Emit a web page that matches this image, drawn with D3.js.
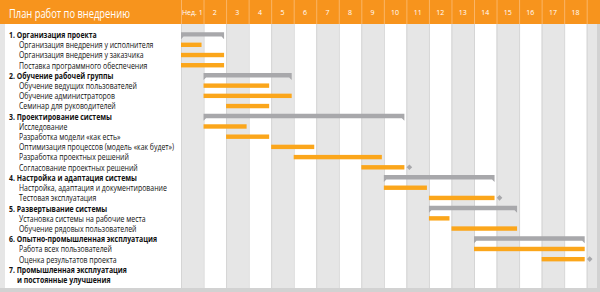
<!DOCTYPE html>
<html lang="ru">
<head>
<meta charset="UTF-8">
<script src="https://cdn.jsdelivr.net/npm/d3@7"></script>
<style>
  body { margin: 0; }
  svg { display: block; font-family: "Open Sans", sans-serif; }
  .lbl { font-size: 8.6px; fill: #111; }
  .lbl.group { font-weight: bold; }
  .wk { font-size: 7px; fill: #fff; }
</style>
</head>
<body>
<svg id="chart" width="600" height="292"></svg>
<script>
const title = "План работ по внедрению";
const weeks = ["Нед. 1", "2", "3", "4", "5", "6", "7", "8", "9", "10", "11", "12", "13", "14", "15", "16", "17", "18"];

const labels = [
  "1. Организация проекта",
  "Организация внедрения у исполнителя",
  "Организация внедрения у заказчика",
  "Поставка программного обеспечения",
  "2. Обучение рабочей группы",
  "Обучение ведущих пользователей",
  "Обучение администраторов",
  "Семинар для руководителей",
  "3. Проектирование системы",
  "Исследование",
  "Разработка модели «как есть»",
  "Оптимизация процессов (модель «как будет»)",
  "Разработка проектных решений",
  "Согласование проектных решений",
  "4. Настройка и адаптация системы",
  "Настройка, адаптация и документирование",
  "Тестовая эксплуатация",
  "5. Развертывание системы",
  "Установка системы на рабочие места",
  "Обучение рядовых пользователей",
  "6. Опытно-промышленная эксплуатация",
  "Работа всех пользователей",
  "Оценка результатов проекта",
  "7. Промышленная эксплуатация",
  "и постоянные улучшения"
];
// g = group (summary), t = task, c = continuation of previous group label
const kinds = ["g","t","t","t","g","t","t","t","g","t","t","t","t","t","g","t","t","g","t","t","g","t","t","g","c"];
// start / end in weeks (0 = beginning of week 1)
const starts = [0,0,0,0, 1,1,1,2, 1,1,2,4,5,8, 9,9,11, 11,11,12, 13,13,16, null,null];
const ends   = [2,1,2,2, 5,4,5,4, 10,3,4,6,9,10, 14,11,14, 15,12,15, 18,18,18, null,null];
const milestones = [13, 16, 22];

const W = 600, H = 292;
const svg = d3.select("#chart");

const x = d3.scaleLinear().domain([0, 18]).range([181, 586.7]);
const y = d3.scaleLinear().domain([0, labels.length - 1]).range([35, 280]);
const colW = x(1) - x(0);

// background
svg.append("rect").attr("width", W).attr("height", H).attr("fill", "#e6e6e6");

// week columns
svg.append("g").selectAll("rect").data(d3.range(19)).join("rect")
  .attr("x", d => x(d)).attr("y", 24)
  .attr("width", colW).attr("height", 264)
  .attr("fill", d => d % 2 === 1 && d < 18 ? "#ffffff" : "#e6e6e6");
svg.append("g").selectAll("line").data(d3.range(19)).join("line")
  .attr("x1", d => x(d) + 0.5).attr("x2", d => x(d) + 0.5)
  .attr("y1", 24).attr("y2", 288)
  .attr("stroke", "#d5d5d5").attr("stroke-width", 1);

// right edge and bottom strip
svg.append("rect").attr("x", 597).attr("y", 24).attr("width", 3).attr("height", H - 24).attr("fill", "#d2d2d2");
svg.append("rect").attr("x", 0).attr("y", 288).attr("width", W).attr("height", 4).attr("fill", "#d2d2d2");

// label panel
svg.append("rect").attr("x", 5).attr("y", 24).attr("width", 176).attr("height", 264).attr("fill", "#ffffff");

// header
svg.append("rect").attr("width", W).attr("height", 24).attr("fill", "#f7941d");
svg.append("g").selectAll("line").data(d3.range(20)).join("line")
  .attr("x1", d => x(d) + 0.5).attr("x2", d => x(d) + 0.5)
  .attr("y1", 0).attr("y2", 24)
  .attr("stroke", "#fab566").attr("stroke-width", 1);

// title, squeezed a little to mimic the narrow original face
const tg = svg.append("g");
const tt = tg.append("text").attr("x", 0).attr("y", 0)
  .attr("fill", "#fff").style("font-size", "13px").text(title);
const tf = 121 / tt.node().getComputedTextLength();
tg.attr("transform", `translate(9,18) scale(${tf},1)`);

svg.append("g").selectAll("text").data(weeks).join("text")
  .attr("class", "wk")
  .attr("x", (d, i) => x(i) + colW / 2).attr("y", 15)
  .attr("text-anchor", "middle").text(d => d);

// labels
const lg = svg.append("g");
const lt = lg.selectAll("text").data(labels).join("text")
  .attr("class", (d, i) => kinds[i] === "t" ? "lbl" : "lbl group")
  .attr("y", (d, i) => y(i) + 3)
  .text(d => d);
const lf = 155 / lt.nodes()[11].getComputedTextLength();
lt.attr("x", (d, i) => (kinds[i] === "t" ? 19 : (kinds[i] === "c" ? 17 : 9)) / lf);
lg.attr("transform", `scale(${lf},1)`);

// bars
const rows = d3.range(labels.length).filter(i => starts[i] !== null);
const taskRows = rows.filter(i => kinds[i] === "t");
const groupRows = rows.filter(i => kinds[i] === "g");

svg.append("g").selectAll("rect").data(taskRows).join("rect")
  .attr("x", i => x(starts[i]))
  .attr("y", i => y(i) - 2.6)
  .attr("width", i => x(ends[i]) - x(starts[i]) - 2)
  .attr("height", 4.4)
  .attr("fill", "#fba61b");

svg.append("g").selectAll("path").data(groupRows).join("path")
  .attr("d", i => {
    const x0 = x(starts[i]), x1 = x(ends[i]) - 2, t = y(i) - 2.8, b = y(i) + 1.6;
    return `M${x0},${t}H${x1}V${b + 2.6}L${x1 - 2.5},${b}H${x0 + 2.5}L${x0},${b + 2.6}Z`;
  })
  .attr("fill", "#a8a8ab");

svg.append("g").selectAll("path").data(milestones).join("path")
  .attr("d", i => {
    const cx = x(ends[i]) + 3, cy = y(i) - 0.5, r = 2.8;
    return `M${cx},${cy - r}L${cx + r},${cy}L${cx},${cy + r}L${cx - r},${cy}Z`;
  })
  .attr("fill", "#a8a8ab");
</script>
</body>
</html>
